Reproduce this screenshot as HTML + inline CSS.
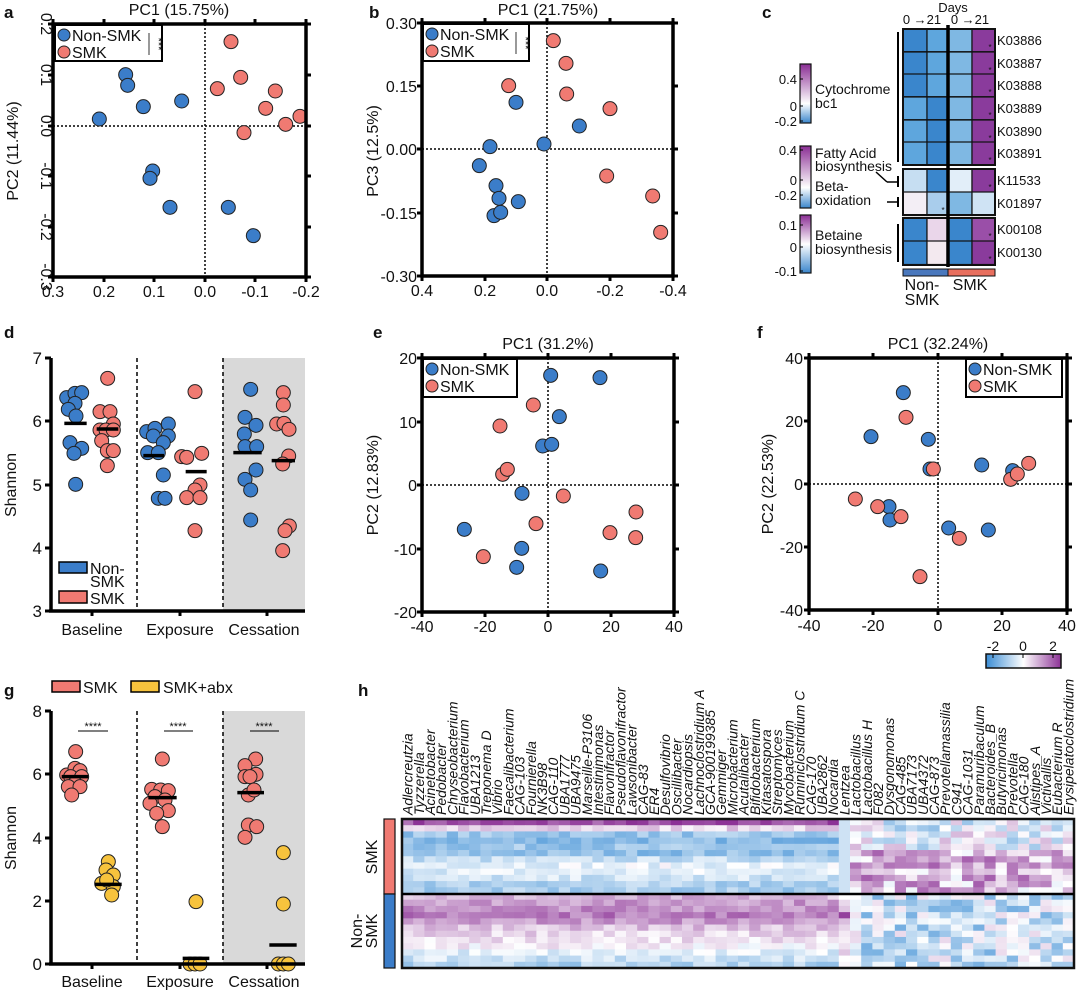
<!DOCTYPE html>
<html><head><meta charset="utf-8"><style>
body{margin:0;background:#fff;}
svg{display:block;font-family:"Liberation Sans",Arial,sans-serif;}
</style></head><body>
<svg id="s" width="1080" height="990" viewBox="0 0 1080 990" xmlns="http://www.w3.org/2000/svg"></svg>
<script>
const S=document.getElementById('s');
let H='';
const B='#3b7dc9',R='#f07a72',Y='#f7c33d';
function t(x,y,s,o){o=o||{};H+=`<text x="${x}" y="${y}" font-size="${o.fs||14}" text-anchor="${o.a||'middle'}" ${o.w?'font-weight="bold"':''} ${o.it?'font-style="italic"':''} ${o.r!=null?`transform="rotate(${o.r} ${x} ${y})"`:''} fill="#111">${s}</text>`;}
function l(x1,y1,x2,y2,w,c,d){H+=`<line x1="${x1}" y1="${y1}" x2="${x2}" y2="${y2}" stroke="${c||'#000'}" stroke-width="${w||1}" ${d?`stroke-dasharray="${d}"`:''}/>`;}
function rc(x,y,w,h,f,s,sw){H+=`<rect x="${x}" y="${y}" width="${w}" height="${h}" fill="${f}" ${s?`stroke="${s}" stroke-width="${sw||1}"`:''}/>`;}
function dot(x,y,c,r){H+=`<circle cx="${x}" cy="${y}" r="${r||7}" fill="${c}" stroke="#222" stroke-width="1"/>`;}
function pts(arr,ox,oy,s,c){arr.forEach(p=>dot(ox+p[0]/s,oy+p[1]/s,c));}
[['a',4,14],['b',369,14],['c',762,14],['d',4,334],['e',373,334],['f',757,334],['g',4,692],['h',358,692]].forEach(p=>t(p[1],p[2]+4,p[0],{fs:17,w:1,a:'start'}));

function box(x0,y0,x1,y1,xt,yt){
  xt.forEach(p=>{l(p[0],y1,p[0],y1+5,3);l(p[0],y0,p[0],y0-5,3);});
  yt.forEach(p=>{l(x0,p[0],x0-5,p[0],3);l(x1,p[0],x1+5,p[0],3);});
  rc(x0,y0,x1-x0,y1-y0,'none','#000',3.5);
}
function legend(x0,y0,x1,y1,stars){
  rc(x0,y0,x1-x0,y1-y0,'#fff','#000',2);
  dot(x0+9,y0+10,B,6);t(x0+17,y0+16,'Non-SMK',{fs:16,a:'start'});
  dot(x0+9,y0+27,R,6);t(x0+17,y0+33,'SMK',{fs:16,a:'start'});
  if(stars){t(x1-7,y0+19,'***',{fs:11,r:90});l(x1-13,y0+8,x1-13,y0+30,0.8);}
}
(function(){
 const x0=53,x1=306,y0=24,y1=277;
 l(205,y0,205,y1,1.5,'#000','2 2');l(x0,126,x1,126,1.5,'#000','2 2');
 const xs=[[53,'0.3'],[104,'0.2'],[154,'0.1'],[205,'0.0'],[255,'-0.1'],[306,'-0.2']];
 const ys=[[24,'0.2'],[75,'0.1'],[126,'0.0'],[176,'-0.1'],[227,'-0.2'],[277,'-0.3']];
 pts([[298,357],[377,224],[383,256],[430,320],[545,303],[458,513],[450,535],[510,622],[685,622],[760,707]],0,0,3,B);
 pts([[693,125],[722,232],[652,266],[826,273],[797,325],[857,373],[732,398],[900,349]],0,0,3,R);
 box(x0,y0,x1,y1,xs,ys);
 xs.forEach(p=>t(p[0],297,p[1],{fs:16}));
 ys.forEach(p=>t(41,p[0],p[1],{fs:16,r:90}));
 t(18,151,'PC2 (11.44%)',{fs:16,r:-90});
 t(179,15,'PC1 (15.75%)',{fs:16});
 legend(55,25,162,61,1);
})();
(function(){
 const x0=422,x1=673,y0=23,y1=276;
 l(547,y0,547,y1,1.5,'#000','2 2');l(x0,149,x1,149,1.5,'#000','2 2');
 const xs=[[422,'0.4'],[485,'0.2'],[547,'0.0'],[610,'-0.2'],[673,'-0.4']];
 const ys=[[23,'0.30'],[86,'0.15'],[149,'0.00'],[213,'-0.15'],[276,'-0.30']];
 pts([[360,440],[328,497],[378,557],[387,595],[372,647],[392,637],[445,605],[438,307],[522,432],[628,378]],370,0,3,B);
 pts([[550,122],[588,190],[590,282],[416,257],[720,326],[710,528],[848,588],[872,697]],370,0,3,R);
 box(x0,y0,x1,y1,xs,ys);
 xs.forEach(p=>t(p[0],296,p[1],{fs:16}));
 ys.forEach(p=>t(417,p[0]+6,p[1],{fs:16,a:'end'}));
 t(378,151,'PC3 (12.5%)',{fs:16,r:-90});
 t(548,15,'PC1 (21.75%)',{fs:16});
 legend(423,24,529,61,1);
})();
(function(){
 const x0=422,x1=674,y0=358,y1=612;
 l(548,y0,548,y1,1.5,'#000','2 2');l(x0,485,x1,485,1.5,'#000','2 2');
 const xs=[[422,'-40'],[485,'-20'],[548,'0'],[611,'20'],[674,'40']];
 const ys=[[358,'20'],[422,'10'],[485,'0'],[549,'-10'],[612,'-20']];
 pts([[542,166],[690,173],[568,290],[518,378],[545,373],[456,520],[283,628],[455,685],[440,742],[692,753]],370,320,3,B);
 pts([[490,255],[390,318],[398,463],[412,448],[580,528],[498,611],[340,710],[720,638],[798,576],[797,653]],370,320,3,R);
 box(x0,y0,x1,y1,xs,ys);
 xs.forEach(p=>t(p[0],632,p[1],{fs:16}));
 ys.forEach(p=>t(417,p[0]+6,p[1],{fs:16,a:'end'}));
 t(378,485,'PC2 (12.83%)',{fs:16,r:-90});
 t(548,349,'PC1 (31.2%)',{fs:16});
 legend(423,359,517,397,0);
})();
(function(){
 const x0=809,x1=1067,y0=358,y1=610;
 l(938,y0,938,y1,1.5,'#000','2 2');l(x0,484,x1,484,1.5,'#000','2 2');
 const xs=[[809,'-40'],[873,'-20'],[938,'0'],[1002,'20'],[1067,'40']];
 const ys=[[358,'40'],[421,'20'],[484,'0'],[547,'-20'],[610,'-40']];
 pts([[580,218],[483,350],[655,358],[660,447],[815,435],[908,452],[537,560],[540,600],[716,624],[835,630]],710,320,3,B);
 pts([[588,292],[670,447],[956,430],[902,478],[922,462],[436,537],[503,560],[573,590],[748,655],[630,770]],710,320,3,R);
 box(x0,y0,x1,y1,xs,ys);
 xs.forEach(p=>t(p[0],631,p[1],{fs:16}));
 ys.forEach(p=>t(803,p[0]+6,p[1],{fs:16,a:'end'}));
 t(773,484,'PC2 (22.53%)',{fs:16,r:-90});
 t(938,349,'PC1 (32.24%)',{fs:16});
 legend(966,359,1062,397,0);
})();
(function(){
 const ox=0,oy=320;
 rc(223,358,82,253,'#d9d9d9');
 l(137,358,137,611,1.5,'#000','4 3');l(223,358,223,611,1.5,'#000','4 3');
 const P=(a,c)=>pts(a,ox,oy,3,c);
 P([[200,233],[225,220],[245,218],[225,250],[205,268],[228,288],[210,368],[245,385],[222,400],[227,493]],B);
 P([[323,175],[300,275],[330,275],[340,312],[300,330],[318,330],[340,330],[305,362],[322,392],[340,392],[322,437]],R);
 P([[440,335],[465,325],[505,312],[460,348],[505,348],[490,368],[443,398],[475,398],[490,465],[475,535],[495,535]],B);
 P([[585,215],[545,410],[560,412],[605,400],[600,495],[585,510],[560,533],[600,533],[585,632]],R);
 P([[752,208],[735,292],[768,316],[733,342],[735,380],[770,380],[768,450],[735,478],[752,510],[752,600]],B);
 P([[850,218],[850,255],[830,312],[852,310],[867,328],[866,408],[848,432],[868,618],[855,632],[848,692]],R);
 [[193,260,310],[290,355,327],[430,492,407],[557,620,455],[700,785,398],[815,885,422]].forEach(m=>l(m[0]/3,oy+m[2]/3,m[1]/3,oy+m[2]/3,3.5));
 l(51,358,51,612,3.5);l(49,611,305,611,3.5);
 [[358,'7'],[421,'6'],[485,'5'],[548,'4'],[611,'3']].forEach(p=>{l(45,p[0],51,p[0],3);t(42,p[0]+6,p[1],{fs:17,a:'end'});});
 [92,180,267].forEach(x=>l(x,611,x,616,3));
 t(92,635,'Baseline',{fs:16});t(180,635,'Exposure',{fs:16});t(264,635,'Cessation',{fs:16});
 t(16,485,'Shannon',{fs:16,r:-90});
 rc(59,562,28,11,B,'#000',1.5);t(90,574,'Non-',{fs:16,a:'start'});t(90,587,'SMK',{fs:16,a:'start'});
 rc(59,591,28,12,R,'#000',1.5);t(90,604,'SMK',{fs:16,a:'start'});
})();
(function(){
 const ox=0,oy=640;
 rc(223,711,82,253,'#d9d9d9');
 l(137,711,137,964,1.5,'#000','4 3');l(223,711,223,964,1.5,'#000','4 3');
 const P=(a,c)=>pts(a,ox,oy,3,c);
 P([[227,335],[200,405],[225,385],[240,392],[212,410],[245,410],[225,430],[205,440],[240,440],[215,465]],R);
 P([[325,665],[318,690],[340,705],[305,730],[340,740],[320,720],[335,765]],Y);
 P([[487,357],[455,448],[482,450],[505,452],[465,470],[495,480],[450,490],[505,512],[470,520],[487,560]],R);
 P([[588,785],[570,972],[585,972],[600,972]],Y);
 P([[767,357],[735,377],[768,403],[735,410],[750,410],[745,465],[762,450],[745,555],[770,560],[735,592]],R);
 P([[850,638],[850,792],[835,972],[850,972],[865,972]],Y);
 [[185,265,410],[285,365,733],[445,530,473],[548,628,955],[712,792,458],[808,890,915]].forEach(m=>l(m[0]/3,oy+m[2]/3,m[1]/3,oy+m[2]/3,3.5));
 l(51,711,51,965,3.5);l(49,964,305,964,3.5);
 [[711,'8'],[774,'6'],[838,'4'],[901,'2'],[964,'0']].forEach(p=>{l(45,p[0],51,p[0],3);t(42,p[0]+6,p[1],{fs:17,a:'end'});});
 [92,180,267].forEach(x=>l(x,964,x,969,3));
 t(92,987,'Baseline',{fs:16});t(180,987,'Exposure',{fs:16});t(264,987,'Cessation',{fs:16});
 t(16,838,'Shannon',{fs:16,r:-90});
 [[93,78,108],[178,164,193],[264,250,279]].forEach(s=>{t(s[0],730,'****',{fs:11});l(s[1],731,s[2],731,1);});
 rc(52,681,28,11,R,'#000',1.5);t(83,693,'SMK',{fs:16,a:'start'});
 rc(131,681,28,11,Y,'#000',1.5);t(163,693,'SMK+abx',{fs:16,a:'start'});
})();
(function(){
 const cx=[903,927,948,972,995];
 const DB='#3a86cc',MB='#5ea6dd',LB='#7fb8e3',VL='#c6def2',PU='#8a3b9c',PL='#ead6ea',WW='#f3eef5';
 const rows=[
  ['K03886',29,[DB,MB,LB,PU]],['K03887',52,[DB,MB,LB,PU]],['K03888',74,[DB,MB,LB,PU]],
  ['K03889',97,[MB,DB,LB,PU]],['K03890',120,[MB,DB,LB,PU]],['K03891',142,[MB,DB,LB,PU]],
  ['K11533',169,[VL,DB,'#e2eef9',PU]],['K01897',192,[WW,'#a9cdec',LB,'#cfe3f4']],
  ['K00108',218,[DB,PL,DB,'#9a4fa8']],['K00130',241,[DB,'#f3e9ef',DB,PU]]];
 rows.forEach(r=>{const h=(r[0]=='K03891'?23:(r[1]<165?22.7:23.5));
  for(let i=0;i<4;i++){rc(cx[i],r[1],cx[i+1]-cx[i],h,r[2][i],'#111',1.2);}
  t(997,r[1]+16,r[0],{fs:13,a:'start'});
  if(r[2][3]==PU||r[0]=='K00108') t(990,r[1]+21,'*',{fs:8});
 });
 t(943,213,'*',{fs:8});
 rc(903,29,92,136,'none','#111',2);rc(903,169,92,46,'none','#111',2);rc(903,218,92,47,'none','#111',2);
 l(948,25,948,267,3.5);
 rc(903,269,45,7,'#4a78bd','#111',1);rc(948,269,47,7,'#e86f5e','#111',1);
 t(953,12,'Days',{fs:13});t(922,24,'0 →21',{fs:13});t(970,24,'0 →21',{fs:13});
 t(922,290,'Non-',{fs:16});t(922,305,'SMK',{fs:16});t(970,290,'SMK',{fs:16});
 l(898,32,898,162,2);l(898,224,898,262,2);l(898,176,898,187,2);l(898,197,898,207,2);
 l(887,182,898,182,1.5);l(876,172,887,182,1.5);l(887,202,898,202,1.5);
 const grad=(id,stops)=>{H+=`<defs><linearGradient id="${id}" x1="0" y1="1" x2="0" y2="0">${stops.map(s=>`<stop offset="${s[0]}" stop-color="${s[1]}"/>`).join('')}</linearGradient></defs>`;};
 grad('g1',[[0,'#3a86cc'],[0.33,'#ffffff'],[1,'#8a2d94']]);
 grad('g2',[[0,'#3a86cc'],[0.33,'#ffffff'],[1,'#8a2d94']]);
 grad('g3',[[0,'#3a86cc'],[0.5,'#ffffff'],[1,'#8a2d94']]);
 rc(800,64,11,59,'url(#g1)','#111',1.2);rc(800,146,11,62,'url(#g2)','#111',1.2);rc(800,215,11,58,'url(#g3)','#111',1.2);
 [[79,'0.4'],[106,'0'],[121,'-0.2'],[150,'0.4'],[180,'0'],[195,'-0.2'],[225,'0.1'],[247,'0'],[271,'-0.1']].forEach(p=>{t(797,p[0]+5,p[1],{fs:13,a:'end'});l(800,p[0],803,p[0],1);});
 t(815,94,'Cytochrome',{fs:14,a:'start'});t(815,108,'bc1',{fs:14,a:'start'});
 t(815,158,'Fatty Acid',{fs:14,a:'start'});t(815,171,'biosynthesis',{fs:14,a:'start'});
 t(815,191,'Beta-',{fs:14,a:'start'});t(815,205,'oxidation',{fs:14,a:'start'});
 t(815,240,'Betaine',{fs:14,a:'start'});t(815,254,'biosynthesis',{fs:14,a:'start'});
})();
(function(){
 const names=['Adlercreutzia','Tyzzerella','Acinetobacter','Pedobacter','Chryseobacterium','Flavobacterium','UBA1213','Treponema D','Vibrio','Faecalibacterium','CAG-103','Fournierella','NK3B98','CAG-110','UBA1777','UBA9475','Marseille-P3106','Intestinimonas','Flavonifractor','Pseudoflavonifractor','Lawsonibacter','CAG-83','ER4','Desulfovibrio','Oscillibacter','Nocardiopsis','Lachnoclostridium A','GCA-900199385','Gemmiger','Microbacterium','Acutalibacter','Bifidobacterium','Kitasatospora','Streptomyces','Mycobacterium','Ruminiclostridium C','CAG-170','UBA2862','Nocardia','Lentzea','Lactobacillus','Lactobacillus H','F082','Dysgonomonas','CAG-485','UBA7173','UBA4372','CAG-873','Prevotellamassilia','C941','CAG-1031','Paramuribaculum','Bacteroides_B','Butyricimonas','Prevotella','CAG-180','Alistipes_A','Victivallis','Eubacterium R','Erysipelatoclostridium'];
 const x0=402,x1=1074,y0=819,y1=968,n=60,nr=24;
 const cw=(x1-x0)/n,rh=(y1-y0)/nr;
 let seed=7;const rnd=()=>{seed=(seed*16807)%2147483647;return seed/2147483647;};
 function col(v){v=Math.max(-2,Math.min(2,v));let a,b,f;
  if(v<0){f=-v/2;a=[255,255,255];b=[58,140,212];}else{f=v/2;a=[255,255,255];b=[140,50,150];}
  return `rgb(${a.map((c,i)=>Math.round(c+(b[i]-c)*f)).join(',')})`;}
 const smkBase=[1.7,0.4,-1.0,-1.2,-1.0,-1.1,-0.6,-0.2,-0.3,-0.5,-0.8,-0.9];
 const nonBase=[0.7,1.0,1.1,1.3,1.0,0.6,0.4,0.3,0.1,-0.3,-0.5,-0.8];
 for(let r=0;r<nr;r++)for(let c=0;c<n;c++){
  let v;
  if(c<39){v=(r<12?smkBase[r]:nonBase[r-12])+(rnd()-0.5)*0.7;}
  else if(c==39){v=r<12?-0.5:(r==15?1.8:0.2)+(rnd()-0.5);}
  else{v=(r<12?(r<5?-0.2:0.7):-0.5)+(rnd()-0.5)*1.8;}
  rc((x0+c*cw).toFixed(2),(y0+r*rh).toFixed(2),(cw+0.4).toFixed(2),(rh+0.4).toFixed(2),col(v));
 }
 rc(x0,y0,x1-x0,y1-y0,'none','#111',2.5);l(x0,894,x1,894,2.5);
 rc(384,819,11,75,R,'#111',1.2);rc(384,894,11,74,B,'#111',1.2);
 t(377,857,'SMK',{fs:16,r:-90});t(362,931,'Non-',{fs:16,r:-90});t(377,931,'SMK',{fs:16,r:-90});
 names.forEach((nm,i)=>{const x=x0+(i+0.5)*cw+5;t(x,815,nm,{fs:14,it:1,a:'start',r:-90});});
 H+=`<defs><linearGradient id="hb" x1="0" y1="0" x2="1" y2="0"><stop offset="0" stop-color="#3a8cd4"/><stop offset="0.5" stop-color="#fff"/><stop offset="1" stop-color="#8c3296"/></linearGradient></defs>`;
 rc(986,654,75,14,'url(#hb)','#111',1.5);
 [[993,'-2'],[1023,'0'],[1053,'2']].forEach(p=>{t(p[0],651,p[1],{fs:14});l(p[0],654,p[0],658,1);});
})();
S.innerHTML=H;
</script>
</body></html>
